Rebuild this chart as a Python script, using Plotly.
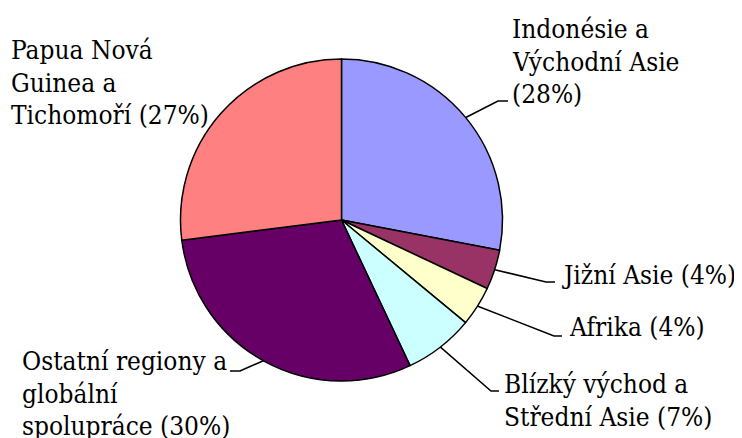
import math
import plotly.graph_objects as go

# data
regions = ["Indonésie a Východní Asie", "Jižní Asie", "Afrika",
           "Blízký východ a Střední Asie", "Ostatní regiony a globální spolupráce",
           "Papua Nová Guinea a Tichomoří"]
shares = [28, 4, 4, 7, 30, 27]
colors = ["#9999FF", "#993366", "#FFFFCC", "#CCFFFF", "#660066", "#FF8080"]
name_lines = [["Indonésie a", "Východní Asie", ""],
              ["Jižní Asie"],
              ["Afrika"],
              ["Blízký východ a", "Střední Asie"],
              ["Ostatní regiony a", "globální", "spolupráce"],
              ["Papua Nová", "Guinea a", "Tichomoří"]]

# layout, in pixels of the 742x438 window (the page body keeps an 8px margin)
OFF = 8
W, H = 742, 438
cx, cy, R = 341.5, 220, 161
label_x = [510, 560, 567, 502, 20, 9]
label_base = [37, 283, 335, 392, 369, 58]
gap = 32.5
elbow = [(498, 101), (546, 282), (554, 336), (491, 391), (240, 371), None]
line_end = [508, 555, 562, 499, 230, None]
FONT = "DejaVu Serif Condensed"
FS = 26

pw, ph = W - OFF, H - OFF
fig = go.Figure()
fig.add_trace(go.Pie(
    labels=regions, values=shares, sort=False, direction="clockwise", rotation=0,
    marker=dict(colors=colors, line=dict(color="black", width=1.5)),
    textinfo="none", hoverinfo="label+percent", showlegend=False,
    domain=dict(x=[(cx - R - OFF) / pw, (cx + R - OFF) / pw],
                y=[(H - cy - R) / ph, (H - cy + R) / ph]),
))

# leader lines and labels
total = sum(shares)
cum = 0
for i, v in enumerate(shares):
    mid = (cum + v / 2) / total
    cum += v
    if elbow[i] is not None:
        a = 2 * math.pi * mid
        ex, ey = cx + (R - 1) * math.sin(a), cy - (R - 1) * math.cos(a)
        fig.add_trace(go.Scatter(
            x=[ex, elbow[i][0], line_end[i]], y=[ey, elbow[i][1], elbow[i][1]],
            mode="lines", line=dict(color="black", width=1.5),
            hoverinfo="skip", showlegend=False))
    lines = list(name_lines[i])
    last = lines[-1]
    lines[-1] = (last + " " if last else "") + f"({v}%)"
    for k, txt in enumerate(lines):
        fig.add_annotation(
            x=label_x[i], y=label_base[i] + k * gap - 8, xref="x", yref="y",
            text=txt, showarrow=False, xanchor="left", yanchor="middle",
            font=dict(family=FONT, size=FS, color="black"))

fig.update_xaxes(visible=False, range=[OFF, W], fixedrange=True)
fig.update_yaxes(visible=False, range=[H, OFF], fixedrange=True)
fig.update_layout(
    width=pw, height=ph, margin=dict(l=0, r=0, t=0, b=0),
    paper_bgcolor="white", plot_bgcolor="white",
)
fig.write_html("out.html")
